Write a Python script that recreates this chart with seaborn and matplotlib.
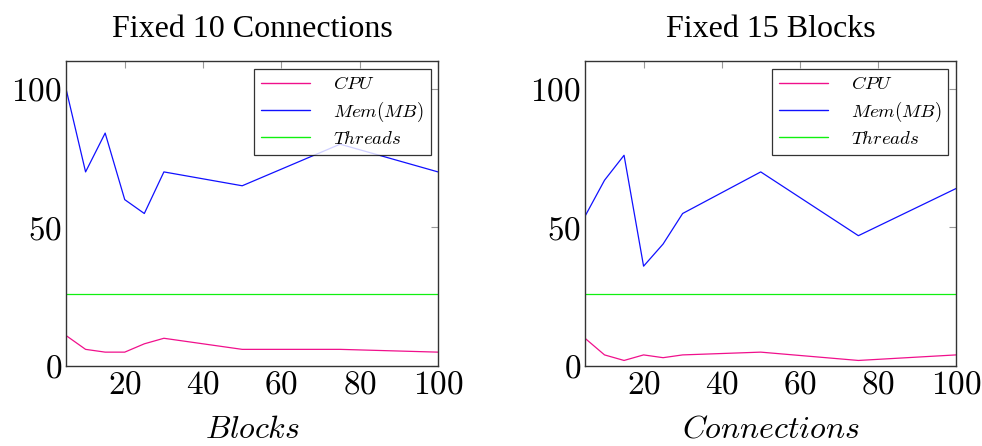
#!/usr/bin/env python3
"""Resource usage under fixed connections / fixed blocks."""

import matplotlib

matplotlib.use("Agg")

import matplotlib.pyplot as plt
import pandas as pd
import seaborn as sns
from matplotlib.ticker import FuncFormatter

X_VALUES = [5, 10, 15, 20, 25, 30, 50, 75, 100]

# Fixed 10 Connections, x = Blocks
BLOCKS_CPU = [11, 6, 5, 5, 8, 10, 6, 6, 5]
BLOCKS_MEM = [100, 70, 84, 60, 55, 70, 65, 80, 70]
BLOCKS_THREADS = [26, 26, 26, 26, 26, 26, 26, 26, 26]

# Fixed 15 Blocks, x = Connections
CONN_CPU = [10, 4, 2, 4, 3, 4, 5, 2, 4]
CONN_MEM = [54, 67, 76, 36, 44, 55, 70, 47, 64]
CONN_THREADS = [26, 26, 26, 26, 26, 26, 26, 26, 26]

SERIES = ["$CPU$", "$Mem(MB)$", "$Threads$"]
COLORS = {"$CPU$": "#f0108c", "$Mem(MB)$": "#1010ff", "$Threads$": "#10f010"}

TITLES = ["Fixed 10 Connections", "Fixed 15 Blocks"]
XLABELS = ["$Blocks$", "$Connections$"]


def long_frame(cpu, mem, threads):
    rows = []
    for name, values in zip(SERIES, (cpu, mem, threads)):
        for x, y in zip(X_VALUES, values):
            rows.append({"x": x, "value": y, "series": name})
    return pd.DataFrame(rows)


def main():
    sns.set_theme(style="white")
    plt.rcParams["font.family"] = ["Liberation Serif", "DejaVu Serif"]
    plt.rcParams["mathtext.fontset"] = "cm"
    plt.rcParams["text.color"] = "black"
    plt.rcParams["xtick.labelcolor"] = "black"
    plt.rcParams["ytick.labelcolor"] = "black"
    plt.rcParams["axes.labelcolor"] = "black"

    fig = plt.figure(figsize=(9.82, 4.46), dpi=100)
    W, H = 982, 446
    boxes = [(66, 61, 438, 366), (585, 61, 956, 366)]
    frames = [
        long_frame(BLOCKS_CPU, BLOCKS_MEM, BLOCKS_THREADS),
        long_frame(CONN_CPU, CONN_MEM, CONN_THREADS),
    ]
    math_fmt = FuncFormatter(lambda v, _: f"${v:g}$")

    for (x0, y0, x1, y1), df, title, xlabel in zip(boxes, frames, TITLES, XLABELS):
        ax = fig.add_axes([x0 / W, 1 - y1 / H, (x1 - x0) / W, (y1 - y0) / H])
        sns.lineplot(data=df, x="x", y="value", hue="series", hue_order=SERIES,
                     palette=COLORS, linewidth=0.9, ax=ax)
        ax.set_xlim(5, 100)
        ax.set_ylim(0, 110)
        ax.set_xticks([20, 40, 60, 80, 100])
        ax.set_yticks([0, 50, 100])
        ax.xaxis.set_major_formatter(math_fmt)
        ax.yaxis.set_major_formatter(math_fmt)
        ax.tick_params(direction="in", length=5, width=0.8, color="#999999",
                       top=True, right=True, labelsize=24, pad=3)
        for spine in ax.spines.values():
            spine.set_color("#333333")
            spine.set_linewidth(1.0)
        ax.set_title(title, fontsize=23, pad=17, color="black")
        ax.set_xlabel(xlabel, fontsize=23, labelpad=11)
        ax.set_ylabel("")
        leg = ax.legend(loc="upper right", fontsize=13.5, frameon=True, fancybox=False,
                        edgecolor="black", handlelength=2.6, borderaxespad=0.4,
                        labelspacing=0.35, handletextpad=1.2, borderpad=0.4)
        leg.get_frame().set_linewidth(0.9)
        for line in leg.get_lines():
            line.set_linewidth(1.0)

    fig.savefig("out.png", dpi=100)
    plt.close(fig)


if __name__ == "__main__":
    main()
